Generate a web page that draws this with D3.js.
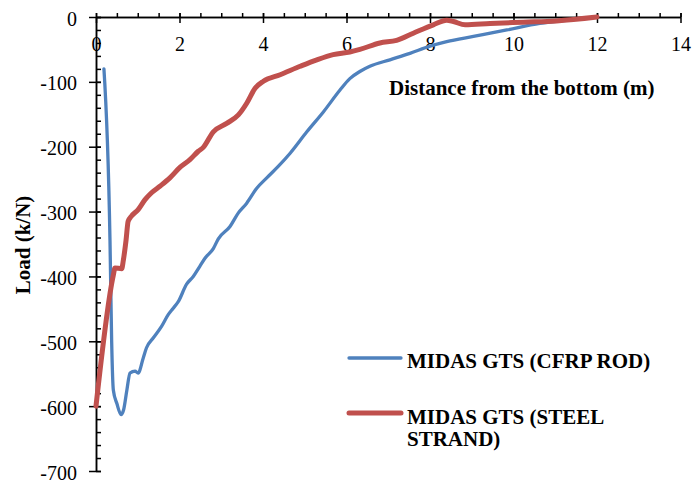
<!DOCTYPE html>
<html>
<head>
<meta charset="utf-8">
<script src="https://cdn.jsdelivr.net/npm/d3@7"></script>
<style>
  body { margin: 0; background: #fff; }
  text { font-family: "Liberation Serif", "Times New Roman", serif; fill: #000; }
</style>
</head>
<body>
<div id="chart"></div>
<script>
// data
var cfrpX = [0.19, 0.335, 0.375, 0.415, 0.5, 0.6, 0.66, 0.74, 0.815, 0.935, 1.01, 1.13, 1.21, 1.37, 1.57, 1.73, 1.85, 1.97, 2.17, 2.33, 2.49, 2.61, 2.81, 2.93, 3.21, 3.41, 3.61, 3.85, 4.09, 4.37, 4.65, 5.05, 5.45, 5.84, 6.08, 6.32, 6.56, 7.04, 7.52, 8.0, 8.4, 9.04, 9.84, 10.63, 11.43, 12.0];
var cfrpY = [-80, -344, -500, -575, -596, -613, -606, -575, -549, -546, -549, -526, -510, -495, -477, -459, -449, -439, -412, -400, -384, -372, -357, -342, -323, -302, -287, -264, -248, -230, -210, -177, -146, -113, -95, -84, -76, -66, -56, -45, -38, -30, -20, -10, -4, 0];

var steelX = [0, 0.415, 0.455, 0.615, 0.655, 0.72, 0.77, 0.85, 1.01, 1.17, 1.33, 1.53, 1.77, 2.01, 2.25, 2.45, 2.57, 2.81, 3.13, 3.41, 3.61, 3.81, 4.01, 4.41, 4.89, 5.29, 5.68, 6.08, 6.32, 6.8, 7.2, 7.6, 8.08, 8.4, 8.56, 8.84, 9.44, 10.23, 11.03, 12.0];
var steelY = [-600, -398, -387, -388, -375, -344, -315, -307, -297, -282, -271, -261, -248, -232, -220, -207, -201, -177, -164, -151, -133, -110, -99, -89, -76, -66, -58, -54, -50, -40, -36, -25, -12, -5, -7, -12, -10, -8, -6, 0];

var xTicks = [0, 2, 4, 6, 8, 10, 12, 14];
var yTicks = [0, -100, -200, -300, -400, -500, -600, -700];
var seriesNames = ["MIDAS GTS (CFRP ROD)", "MIDAS GTS (STEEL", "STRAND)"];

var width = 692, height = 481;

var svg = d3.select("#chart")
  .append("svg")
    .attr("width", width)
    .attr("height", height);

var x = d3.scaleLinear().domain([0, 14]).range([96, 680.5]);
var y = d3.scaleLinear().domain([-700, 0]).range([471, 17]);

// minor ticks
svg.append("g")
  .attr("transform", "translate(0," + y(0) + ")")
  .call(d3.axisTop(x).tickValues(d3.range(0, 14.01, 0.5)).tickSize(4).tickSizeOuter(0).tickFormat(""))
  .call(g => g.selectAll("path, line").attr("stroke", "#000").attr("stroke-width", 1.5));
svg.append("g")
  .attr("transform", "translate(" + x(0) + ",0)")
  .call(d3.axisLeft(y).tickValues(d3.range(-700, 0.01, 20)).tickSize(-5).tickSizeOuter(0).tickFormat(""))
  .call(g => g.selectAll("path, line").attr("stroke", "#000").attr("stroke-width", 1.5));

// X axis (at top)
svg.append("g")
  .attr("transform", "translate(0," + y(0) + ")")
  .call(d3.axisTop(x).tickValues(xTicks).tickSizeOuter(0).tickFormat(d3.format("d")))
  .call(g => {
    g.selectAll("path, line").attr("stroke", "#000").attr("stroke-width", 1.5);
    g.selectAll("line").attr("y1", 6).attr("y2", -4);
    g.selectAll("text").attr("y", 27).attr("dy", "0.35em")
      .style("font-size", "20px").style("font-family", "Liberation Serif");
  });

// Y axis
svg.append("g")
  .attr("transform", "translate(" + x(0) + ",0)")
  .call(d3.axisLeft(y).tickValues(yTicks).tickSizeOuter(0).tickFormat(d => d === 0 ? "0" : "-" + Math.abs(d)))
  .call(g => {
    g.selectAll("path, line").attr("stroke", "#000").attr("stroke-width", 1.5);
    g.selectAll("line").attr("x1", 5).attr("x2", -7);
    g.selectAll("text").attr("x", -19).attr("dy", "0.4em")
      .style("font-size", "20px").style("font-family", "Liberation Serif");
  });

// axis titles
svg.append("text")
  .attr("x", 389)
  .attr("y", 95)
  .style("font-size", "21px")
  .style("font-weight", "bold")
  .text("Distance from the bottom (m)");

svg.append("text")
  .attr("text-anchor", "middle")
  .attr("transform", "translate(30,245) rotate(-90)")
  .style("font-size", "21px")
  .style("font-weight", "bold")
  .text("Load (k/N)");

// lines
var line = d3.line()
  .x(d => x(d[0]))
  .y(d => y(d[1]))
  .curve(d3.curveMonotoneX);

var cfrp = cfrpX.map((v, i) => [v, cfrpY[i]]);
var steel = steelX.map((v, i) => [v, steelY[i]]);

svg.append("path")
  .datum(cfrp)
  .attr("fill", "none")
  .attr("stroke", "#4F81BD")
  .attr("stroke-width", 3.3)
  .attr("stroke-linejoin", "round")
  .attr("stroke-linecap", "round")
  .attr("d", line);

svg.append("path")
  .datum(steel)
  .attr("fill", "none")
  .attr("stroke", "#C0504D")
  .attr("stroke-width", 5)
  .attr("stroke-linejoin", "round")
  .attr("stroke-linecap", "round")
  .attr("d", line);

// legend
svg.append("line")
  .attr("x1", 349).attr("x2", 401).attr("y1", 358).attr("y2", 358)
  .attr("stroke", "#4F81BD").attr("stroke-width", 3.3).attr("stroke-linecap", "round");
svg.append("line")
  .attr("x1", 349).attr("x2", 401).attr("y1", 413).attr("y2", 413)
  .attr("stroke", "#C0504D").attr("stroke-width", 5).attr("stroke-linecap", "round");

svg.append("text").attr("x", 407).attr("y", 368)
  .style("font-size", "21px").style("font-weight", "bold").text(seriesNames[0]);
svg.append("text").attr("x", 407).attr("y", 424)
  .style("font-size", "21px").style("font-weight", "bold").text(seriesNames[1]);
svg.append("text").attr("x", 407).attr("y", 446)
  .style("font-size", "21px").style("font-weight", "bold").text(seriesNames[2]);
</script>
</body>
</html>
